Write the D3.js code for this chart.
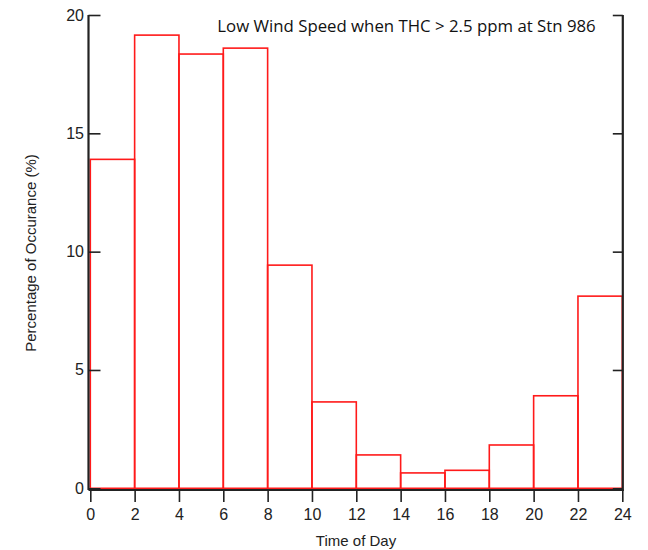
<!DOCTYPE html>
<html>
<head>
<meta charset="utf-8">
<script src="https://cdn.jsdelivr.net/npm/d3@7"></script>
<style>
  body { margin: 0; background: #fff; }
  svg { display: block; font-family: "Liberation Sans", Arial, sans-serif; }
</style>
</head>
<body>
<svg id="chart" width="648" height="550"></svg>
<script>
"use strict";

const binStarts = [0, 2, 4, 6, 8, 10, 12, 14, 16, 18, 20, 22];
const binWidth = 2;
const percents = [13.9, 19.15, 18.35, 18.6, 9.43, 3.65, 1.41, 0.65, 0.76, 1.83, 3.91, 8.12];
const xTicks = [0, 2, 4, 6, 8, 10, 12, 14, 16, 18, 20, 22, 24];
const yTicks = [0, 5, 10, 15, 20];
const title = "Low Wind Speed when THC > 2.5 ppm at Stn 986";

const svg = d3.select('#chart');

const x = d3.scaleLinear().domain([0, 24]).range([90.3, 622.3]);
const y = d3.scaleLinear().domain([0, 20]).range([488.3, 15]);

// bars: white fill, red outline
svg.append('g')
  .selectAll('rect')
  .data(binStarts)
  .enter()
  .append('rect')
  .attr('x', (d) => x(d))
  .attr('y', (d, i) => y(percents[i]))
  .attr('width', (d) => x(d + binWidth) - x(d))
  .attr('height', (d, i) => y(0) - y(percents[i]))
  .attr('fill', 'none')
  .attr('stroke', '#ff1a1a')
  .attr('stroke-width', 1.6);

// left axis, ticks pointing in
let left = svg.append('g')
  .attr('transform', 'translate(88.5,0)')
  .call(d3.axisRight(y).tickValues(yTicks).tickSize(12).tickFormat(''));
left.select('.domain').attr('d', 'M0,' + y(20) + 'V490');

svg.append('g')
  .selectAll('text')
  .data(yTicks)
  .enter()
  .append('text')
  .attr('x', 84)
  .attr('y', (d) => y(d) + 5.5)
  .attr('text-anchor', 'end')
  .attr('font-size', 16)
  .attr('fill', '#222')
  .text((d) => d);

// right axis, no labels
let right = svg.append('g')
  .attr('transform', 'translate(622.8,0)')
  .call(d3.axisLeft(y).tickValues(yTicks).tickSize(10).tickFormat(''));
right.select('.domain').attr('d', 'M0,' + y(20) + 'V491');

// bottom axis
let bottom = svg.append('g')
  .attr('transform', 'translate(0,490)')
  .call(d3.axisBottom(x).tickValues(xTicks).tickSize(12).tickPadding(7));
bottom.select('.domain').attr('d', 'M88.5,0H623.5');
bottom.selectAll('text').attr('font-size', 16).attr('fill', '#222')
  .attr('font-family', '"Liberation Sans", Arial, sans-serif');

svg.selectAll('.domain').attr('stroke', '#222').attr('stroke-width', 2.2);
svg.selectAll('.tick line').attr('stroke', '#222').attr('stroke-width', 1.6);

// labels
svg.append('text')
  .attr('x', 406.5)
  .attr('y', 32)
  .attr('text-anchor', 'middle')
  .attr('font-family', '"Open Sans", Carlito, sans-serif')
  .attr('font-size', 16.8)
  .attr('fill', '#111')
  .text(title);

svg.append('text')
  .attr('x', 356)
  .attr('y', 546)
  .attr('text-anchor', 'middle')
  .attr('font-size', 15)
  .attr('fill', '#222')
  .text('Time of Day');

svg.append('text')
  .attr('transform', 'translate(36,253) rotate(-90)')
  .attr('text-anchor', 'middle')
  .attr('font-size', 15)
  .attr('fill', '#222')
  .text('Percentage of Occurance (%)');
</script>
</body>
</html>
